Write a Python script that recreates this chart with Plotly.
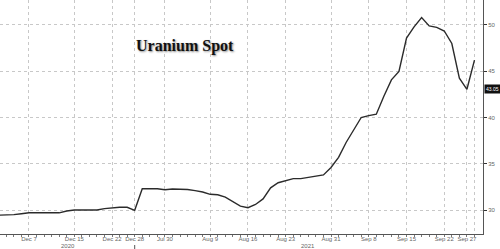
import plotly.graph_objects as go

dates = [
    "2020-12-01", "2020-12-02", "2020-12-03", "2020-12-04",
    "2020-12-07", "2020-12-08", "2020-12-09", "2020-12-10", "2020-12-11",
    "2020-12-14", "2020-12-15", "2020-12-16", "2020-12-17", "2020-12-18",
    "2020-12-21", "2020-12-22", "2020-12-23", "2020-12-24",
    "2020-12-28", "2020-12-29", "2020-12-30", "2020-12-31",
    "2021-07-30",
    "2021-08-02", "2021-08-03", "2021-08-04", "2021-08-05", "2021-08-06",
    "2021-08-09", "2021-08-10", "2021-08-11", "2021-08-12", "2021-08-13",
    "2021-08-16", "2021-08-17", "2021-08-18", "2021-08-19", "2021-08-20",
    "2021-08-23", "2021-08-24", "2021-08-25", "2021-08-26", "2021-08-27",
    "2021-08-30", "2021-08-31", "2021-09-01", "2021-09-02", "2021-09-03",
    "2021-09-07", "2021-09-08", "2021-09-09", "2021-09-10",
    "2021-09-13", "2021-09-14", "2021-09-15", "2021-09-16", "2021-09-17",
    "2021-09-20", "2021-09-21", "2021-09-22", "2021-09-23", "2021-09-24",
    "2021-09-27", "2021-09-28",
]

uranium_spot = [
    29.45, 29.47, 29.5, 29.6,
    29.7, 29.7, 29.7, 29.7, 29.7,
    29.9, 30.0, 30.0, 30.0, 30.0,
    30.15, 30.25, 30.3, 30.3,
    29.97, 32.3, 32.3, 32.3,
    32.2,
    32.28, 32.25, 32.22, 32.1, 31.95,
    31.7, 31.65, 31.4, 30.9, 30.43,
    30.25, 30.6, 31.2, 32.4, 32.95,
    33.2, 33.4, 33.4, 33.55, 33.7,
    33.8, 34.6, 35.7, 37.3, 38.7,
    40.0, 40.2, 40.36, 42.3,
    44.07, 44.97, 48.58, 49.8, 50.8,
    49.9, 49.75, 49.35, 48.0, 44.25,
    43.05, 46.2,
]

tick_dates = ["2020-12-07", "2020-12-15", "2020-12-22", "2020-12-28", "2021-07-30",
              "2021-08-09", "2021-08-16", "2021-08-23", "2021-08-31", "2021-09-08",
              "2021-09-15", "2021-09-22", "2021-09-27", "2021-09-28"]
tick_labels = ["Dec 7", "Dec 15", "Dec 22", "Dec 28", "Jul 30", "Aug 9", "Aug 16",
               "Aug 23", "Aug 31", "Sep 8", "Sep 15", "Sep 22", "Sep 27", ""]

y_ticks = [30, 35, 40, 45, 50]
last_label = "43.05"
last_value = 43.05

TICK_FONT = dict(family="Liberation Sans, Arial, sans-serif", size=6, color="#666")
X_RANGE = [0.16, 64.13]

fig = go.Figure()
fig.add_trace(go.Scatter(
    x=dates, y=uranium_spot, mode="lines",
    line=dict(color="#2b2b2b", width=1.4),
    hoverinfo="skip", showlegend=False,
))
# helper trace for minor category ticks
fig.add_trace(go.Scatter(
    x=dates, y=uranium_spot, mode="lines", xaxis="x2",
    line=dict(color="rgba(0,0,0,0)", width=0),
    hoverinfo="skip", showlegend=False,
))

fig.update_layout(
    width=500, height=249,
    margin=dict(l=0, r=17, t=0, b=15),
    paper_bgcolor="white", plot_bgcolor="white",
    xaxis=dict(
        type="category", categoryorder="array", categoryarray=dates,
        range=X_RANGE,
        tickvals=tick_dates, ticktext=tick_labels,
        showgrid=True, gridcolor="#c8c8c8", griddash="dot", gridwidth=1,
        showline=True, linecolor="#555", linewidth=1,
        ticks="outside", ticklen=1, tickcolor="#555",
        tickfont=TICK_FONT, tickangle=0, ticklabelstandoff=-2,
        zeroline=False,
    ),
    xaxis2=dict(
        type="category", categoryorder="array", categoryarray=dates,
        range=X_RANGE, overlaying="x", side="bottom",
        tickvals=dates, showticklabels=False,
        ticks="outside", ticklen=2, tickcolor="#777",
        showgrid=False, showline=False, zeroline=False,
    ),
    yaxis=dict(
        side="right", range=[27.41, 52.7],
        tickvals=y_ticks, ticktext=[str(v) for v in y_ticks],
        showgrid=True, gridcolor="#c8c8c8", griddash="dot", gridwidth=1,
        showline=True, linecolor="#555", linewidth=1,
        ticks="outside", ticklen=3, tickcolor="#333",
        tickfont=TICK_FONT, zeroline=False,
    ),
)

# title text
fig.add_annotation(
    text="<b>Uranium Spot</b>", xref="paper", yref="paper",
    x=185 / 483, y=1 - 46 / 234, xanchor="center", yanchor="middle",
    showarrow=False,
    font=dict(family="Liberation Serif, Times New Roman, serif", size=16, color="#111",
              shadow="1px 1px 2px #888"),
)

# year labels
fig.add_annotation(text="2020", xref="x", yref="paper", x=9.2, y=-12 / 234,
                   xanchor="center", yanchor="middle", showarrow=False, font=TICK_FONT)
fig.add_annotation(text="2021", xref="x", yref="paper", x=41, y=-12 / 234,
                   xanchor="center", yanchor="middle", showarrow=False, font=TICK_FONT)

# year separator tick
fig.add_shape(type="line", xref="x", yref="paper", x0=18, x1=18,
              y0=-11 / 234, y1=-15 / 234, line=dict(color="#555", width=1))

# last value label
fig.add_annotation(
    text=last_label, xref="paper", yref="y", x=1, y=last_value,
    xanchor="left", yanchor="middle", xshift=1, showarrow=False,
    bgcolor="#111", borderpad=1,
    font=dict(family="Liberation Sans, Arial, sans-serif", size=5, color="white"),
)

fig.write_html("out.html")
